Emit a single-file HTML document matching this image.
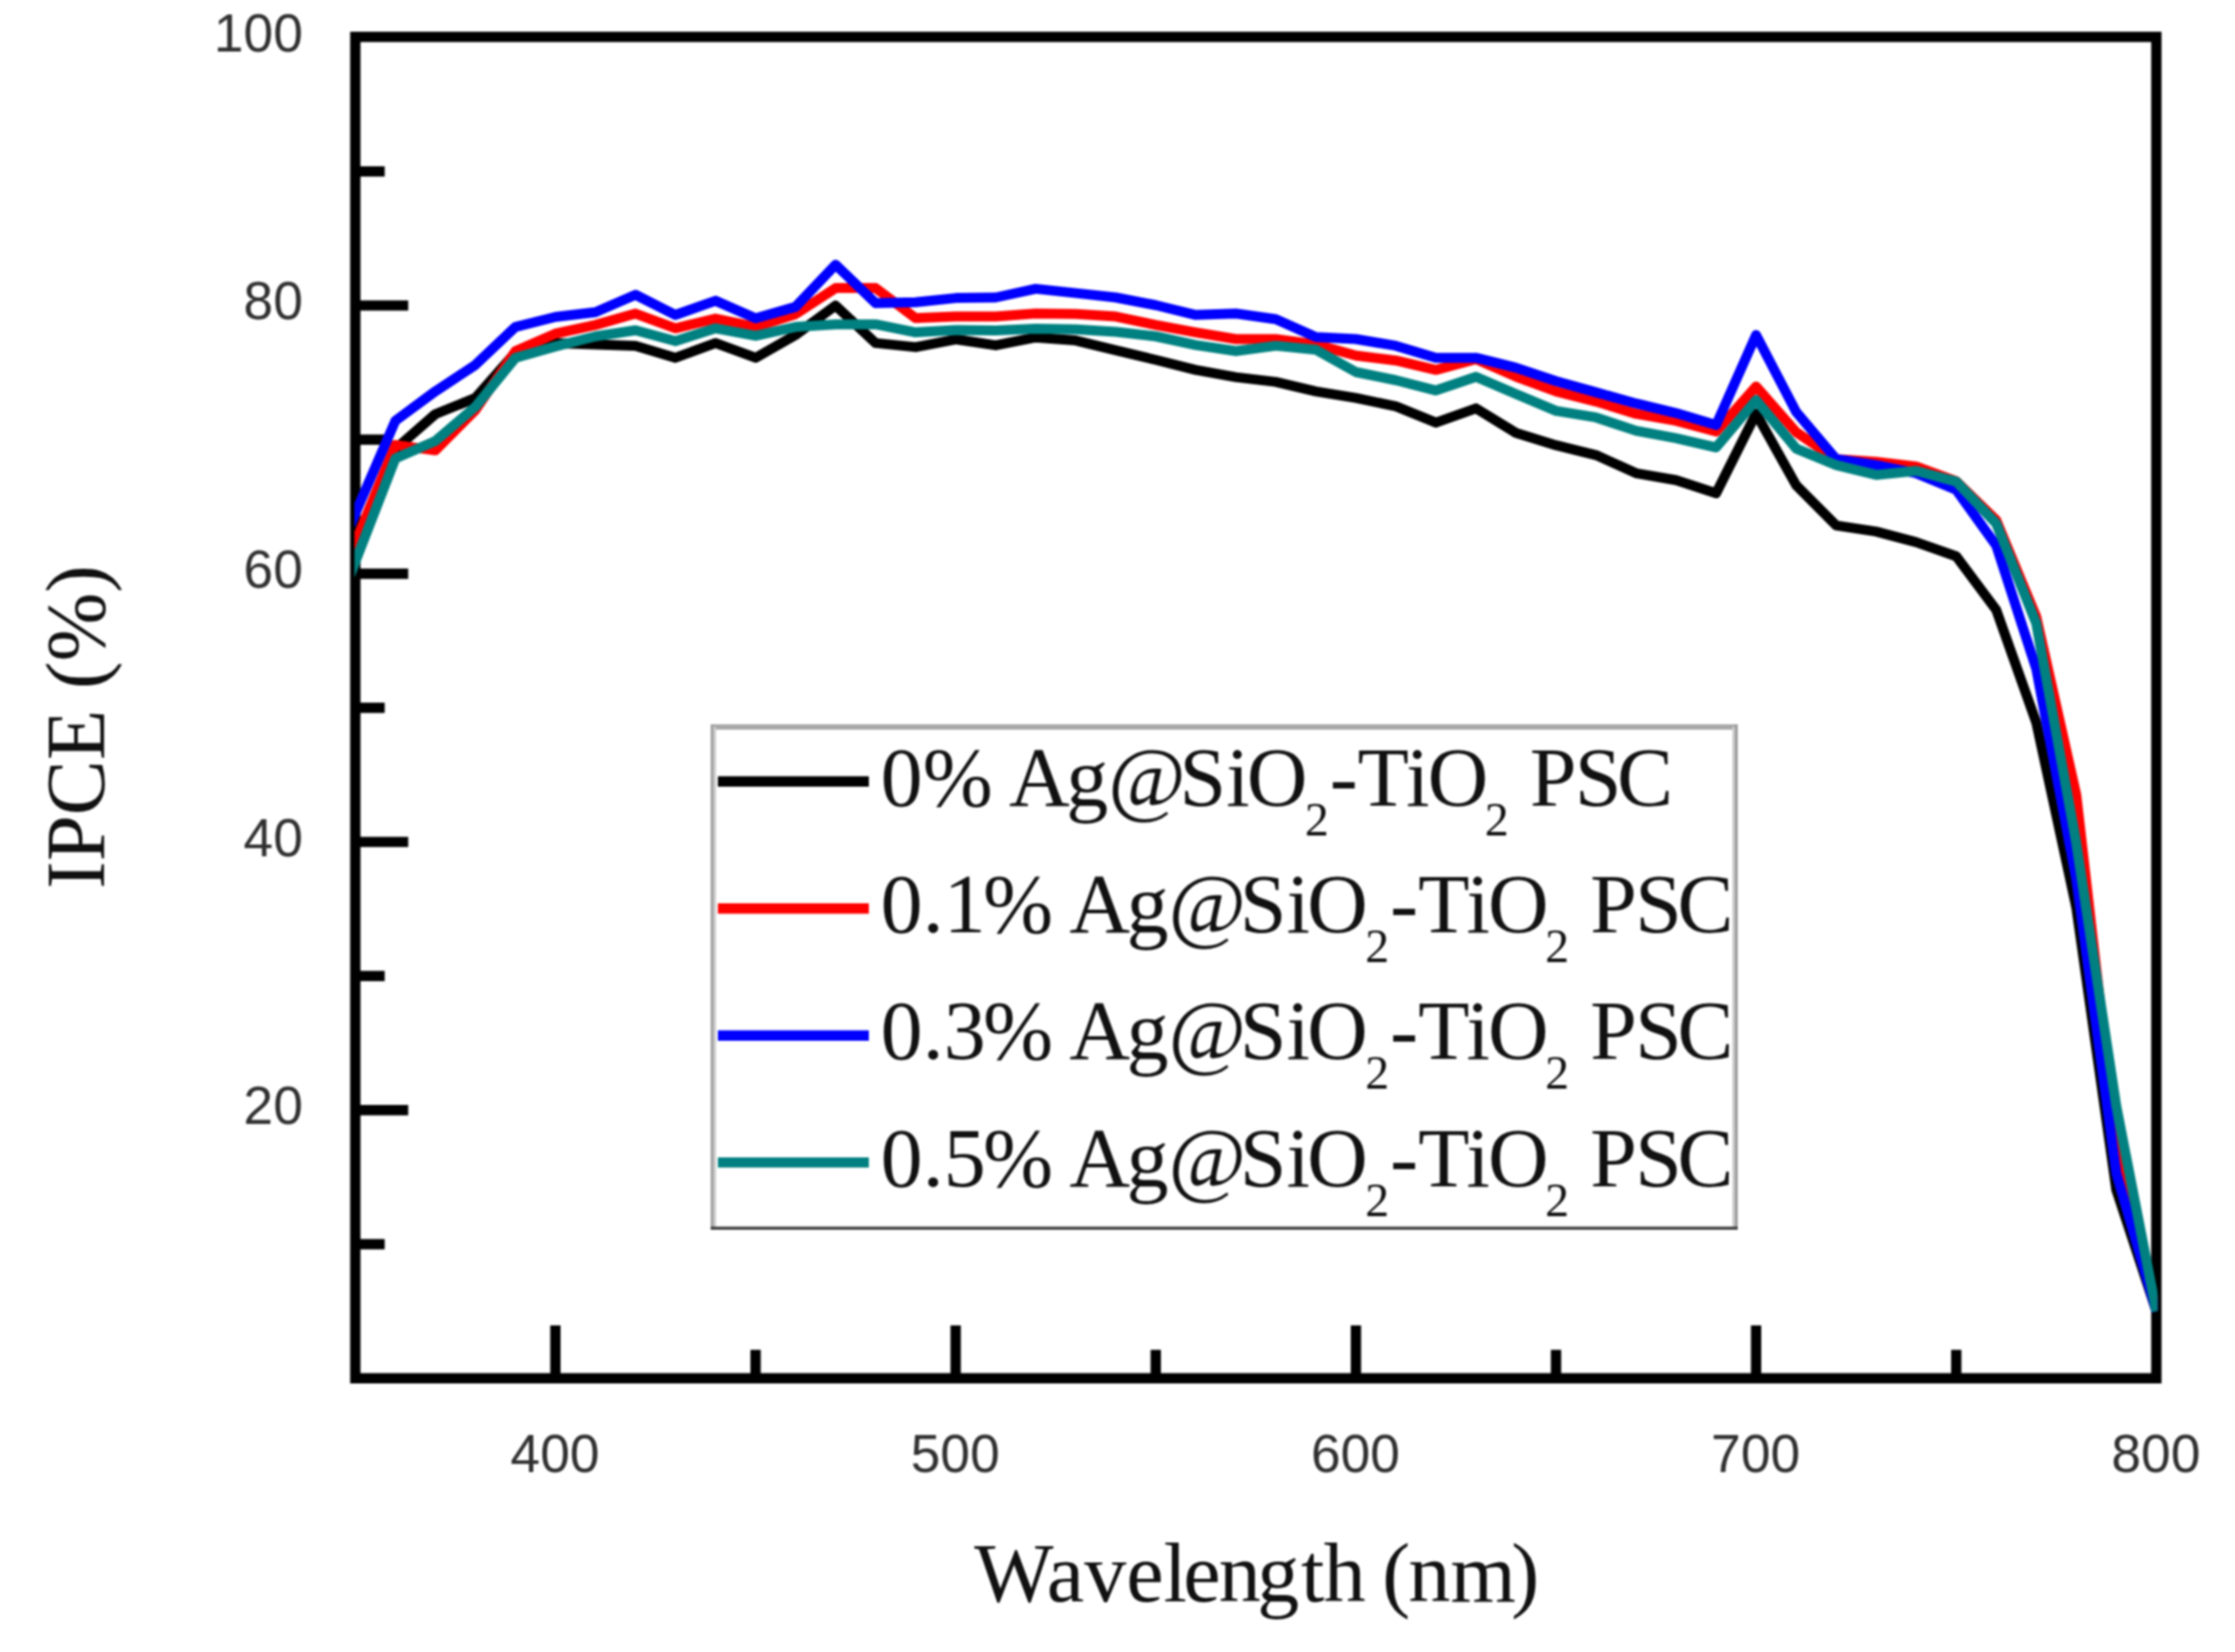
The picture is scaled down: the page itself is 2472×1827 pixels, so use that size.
<!DOCTYPE html>
<html><head><meta charset="utf-8"><title>IPCE</title>
<style>html,body{margin:0;padding:0;background:#fff}svg{display:block;filter:blur(1.05px)}</style>
</head><body>
<svg width="2472" height="1827" viewBox="0 0 2472 1827">
<rect width="2472" height="1827" fill="#fff"/>
<rect x="393.0" y="40.8" width="1992.0" height="1483.5" fill="none" stroke="#000" stroke-width="11.4"/>
<g stroke="#000" stroke-width="11.4" stroke-linecap="butt"><line x1="398.0" y1="1376.0" x2="425.5" y2="1376.0"/><line x1="398.0" y1="1227.7" x2="451.5" y2="1227.7"/><line x1="398.0" y1="1079.4" x2="425.5" y2="1079.4"/><line x1="398.0" y1="931.1" x2="451.5" y2="931.1"/><line x1="398.0" y1="782.8" x2="425.5" y2="782.8"/><line x1="398.0" y1="634.5" x2="451.5" y2="634.5"/><line x1="398.0" y1="486.2" x2="425.5" y2="486.2"/><line x1="398.0" y1="337.9" x2="451.5" y2="337.9"/><line x1="398.0" y1="189.6" x2="425.5" y2="189.6"/><line x1="614.3" y1="1519.3" x2="614.3" y2="1465.8"/><line x1="835.7" y1="1519.3" x2="835.7" y2="1492.8"/><line x1="1057.0" y1="1519.3" x2="1057.0" y2="1465.8"/><line x1="1278.3" y1="1519.3" x2="1278.3" y2="1492.8"/><line x1="1499.7" y1="1519.3" x2="1499.7" y2="1465.8"/><line x1="1721.0" y1="1519.3" x2="1721.0" y2="1492.8"/><line x1="1942.3" y1="1519.3" x2="1942.3" y2="1465.8"/><line x1="2163.7" y1="1519.3" x2="2163.7" y2="1492.8"/></g>
<clipPath id="c"><rect x="392" y="0" width="1994.5" height="1600"/></clipPath>
<g clip-path="url(#c)">
<polyline points="348.7,713.1 393.0,604.8 437.3,496.6 481.5,458.0 525.8,440.2 570.1,389.8 614.3,379.4 658.6,380.9 702.9,382.4 747.1,395.7 791.4,379.4 835.7,395.7 879.9,370.5 924.2,337.9 968.5,379.4 1012.7,383.9 1057.0,375.3 1101.3,381.9 1145.5,373.2 1189.8,376.6 1234.1,387.4 1278.3,398.0 1322.6,409.1 1366.9,417.1 1411.1,422.4 1455.4,432.8 1499.7,440.2 1543.9,449.4 1588.2,467.4 1632.5,451.6 1676.7,478.8 1721.0,492.4 1765.3,503.3 1809.5,523.3 1853.8,531.0 1898.1,545.5 1942.3,457.4 1986.6,536.6 2030.9,581.1 2075.1,587.9 2119.4,599.6 2163.7,615.2 2207.9,674.5 2252.2,799.1 2296.5,1003.8 2340.7,1315.9 2385.0,1450.1" fill="none" stroke="#000000" stroke-width="11" stroke-linejoin="round" stroke-linecap="butt"/>
<polyline points="348.7,708.6 393.0,600.4 437.3,492.1 481.5,498.1 525.8,453.6 570.1,388.3 614.3,369.0 658.6,359.4 702.9,346.8 747.1,363.1 791.4,352.3 835.7,361.6 879.9,347.5 924.2,318.6 968.5,318.6 1012.7,351.8 1057.0,350.1 1101.3,350.1 1145.5,346.8 1189.8,347.2 1234.1,350.1 1278.3,359.4 1322.6,367.6 1366.9,375.0 1411.1,375.0 1455.4,380.9 1499.7,393.2 1543.9,398.7 1588.2,409.1 1632.5,397.2 1676.7,416.5 1721.0,432.8 1765.3,444.1 1809.5,457.7 1853.8,465.4 1898.1,477.3 1942.3,427.5 1986.6,477.9 2030.9,507.7 2075.1,510.7 2119.4,515.9 2163.7,532.2 2207.9,575.2 2252.2,682.0 2296.5,879.2 2340.7,1264.8 2385.0,1450.1" fill="none" stroke="#ff0000" stroke-width="11" stroke-linejoin="round" stroke-linecap="butt"/>
<polyline points="348.7,670.1 393.0,567.8 437.3,465.4 481.5,432.8 525.8,403.6 570.1,361.6 614.3,350.5 658.6,345.3 702.9,326.0 747.1,348.3 791.4,332.6 835.7,352.0 879.9,339.4 924.2,292.7 968.5,335.2 1012.7,334.2 1057.0,329.6 1101.3,329.0 1145.5,319.4 1189.8,324.1 1234.1,329.0 1278.3,337.5 1322.6,348.3 1366.9,346.8 1411.1,353.0 1455.4,372.8 1499.7,375.0 1543.9,382.4 1588.2,395.7 1632.5,395.7 1676.7,406.6 1721.0,421.5 1765.3,433.9 1809.5,446.2 1853.8,456.8 1898.1,469.9 1942.3,370.5 1986.6,455.5 2030.9,507.7 2075.1,514.4 2119.4,523.3 2163.7,541.7 2207.9,603.4 2252.2,739.8 2296.5,972.6 2340.7,1297.4 2385.0,1450.1" fill="none" stroke="#0000ff" stroke-width="11" stroke-linejoin="round" stroke-linecap="butt"/>
<polyline points="348.7,735.3 393.0,621.2 437.3,507.0 481.5,487.7 525.8,449.9 570.1,395.7 614.3,383.1 658.6,372.0 702.9,365.3 747.1,377.2 791.4,363.1 835.7,371.3 879.9,361.6 924.2,358.7 968.5,358.7 1012.7,367.6 1057.0,365.0 1101.3,365.6 1145.5,363.6 1189.8,364.3 1234.1,367.0 1278.3,372.0 1322.6,381.6 1366.9,388.3 1411.1,382.4 1455.4,386.8 1499.7,411.5 1543.9,420.5 1588.2,431.8 1632.5,416.8 1676.7,435.8 1721.0,454.3 1765.3,461.7 1809.5,476.4 1853.8,484.7 1898.1,494.8 1942.3,442.5 1986.6,496.1 2030.9,514.4 2075.1,525.2 2119.4,520.8 2163.7,532.6 2207.9,578.9 2252.2,689.4 2296.5,932.6 2340.7,1223.3 2385.0,1450.1" fill="none" stroke="#008080" stroke-width="11" stroke-linejoin="round" stroke-linecap="butt"/>
</g>
<g font-family="'Liberation Sans', sans-serif" font-size="59" fill="#303030">
<text x="335" y="1243.2" text-anchor="end">20</text>
<text x="335" y="946.6" text-anchor="end">40</text>
<text x="335" y="650.0" text-anchor="end">60</text>
<text x="335" y="353.4" text-anchor="end">80</text>
<text x="335" y="56.8" text-anchor="end">100</text>
<text x="613.8" y="1628" text-anchor="middle">400</text>
<text x="1056.5" y="1628" text-anchor="middle">500</text>
<text x="1499.2" y="1628" text-anchor="middle">600</text>
<text x="1941.8" y="1628" text-anchor="middle">700</text>
<text x="2384.5" y="1628" text-anchor="middle">800</text>
</g>
<g font-family="'Liberation Serif', serif" fill="#111">
<text x="1390" y="1771" font-size="93" text-anchor="middle">Wavel<tspan dx="-4">e</tspan><tspan dx="-2">n</tspan><tspan dx="-4">g</tspan><tspan dx="2">t</tspan><tspan dx="-1">h </tspan><tspan dx="-5">(</tspan><tspan dx="-2">nm</tspan><tspan dx="-5">)</tspan></text>
<text transform="translate(114.5,804) rotate(-90) scale(0.983,1)" font-size="93" text-anchor="middle">IPCE (%)</text>
</g>
<rect x="785" y="800.5" width="137" height="3" fill="#fff"/>
<g>
<rect x="786" y="801" width="1136" height="557" fill="#fff"/>
<rect x="786" y="801" width="1136" height="6" fill="#a8a8a8"/>
<rect x="786" y="801" width="3" height="557" fill="#a0a0a0"/>
<rect x="789" y="804" width="3" height="554" fill="#cccccc"/>
<rect x="1916" y="804" width="3" height="554" fill="#cccccc"/>
<rect x="1919" y="801" width="3" height="557" fill="#999999"/>
<rect x="786" y="1356.6" width="1136" height="3.4" fill="#3c3c3c"/>
</g>
<g font-family="'Liberation Serif', serif" font-size="93" fill="#111">
<line x1="794" y1="864.3" x2="961" y2="864.3" stroke="#000000" stroke-width="11.4"/>
<text x="974" y="890.5">0% A<tspan dx="-4">g@</tspan><tspan dx="-7">Si</tspan><tspan dx="-3">O</tspan><tspan font-size="53" dy="33" dx="-3">2</tspan><tspan dy="-33" dx="1">-Ti</tspan><tspan dx="-2">O</tspan><tspan font-size="53" dy="33" dx="-4">2</tspan><tspan dy="-33"> P</tspan><tspan dx="-2">S</tspan><tspan dx="-5">C</tspan></text>
<line x1="794" y1="1004.8" x2="961" y2="1004.8" stroke="#ff0000" stroke-width="11.4"/>
<text x="974" y="1031.0">0.1<tspan dx="-3">%</tspan> A<tspan dx="-4">g@</tspan><tspan dx="-7">Si</tspan><tspan dx="-3">O</tspan><tspan font-size="53" dy="33" dx="-3">2</tspan><tspan dy="-33" dx="1">-Ti</tspan><tspan dx="-2">O</tspan><tspan font-size="53" dy="33" dx="-4">2</tspan><tspan dy="-33"> P</tspan><tspan dx="-2">S</tspan><tspan dx="-5">C</tspan></text>
<line x1="794" y1="1145.2" x2="961" y2="1145.2" stroke="#0000ff" stroke-width="11.4"/>
<text x="974" y="1171.4">0.3<tspan dx="-3">%</tspan> A<tspan dx="-4">g@</tspan><tspan dx="-7">Si</tspan><tspan dx="-3">O</tspan><tspan font-size="53" dy="33" dx="-3">2</tspan><tspan dy="-33" dx="1">-Ti</tspan><tspan dx="-2">O</tspan><tspan font-size="53" dy="33" dx="-4">2</tspan><tspan dy="-33"> P</tspan><tspan dx="-2">S</tspan><tspan dx="-5">C</tspan></text>
<line x1="794" y1="1285.6" x2="961" y2="1285.6" stroke="#008080" stroke-width="11.4"/>
<text x="974" y="1311.8">0.5<tspan dx="-3">%</tspan> A<tspan dx="-4">g@</tspan><tspan dx="-7">Si</tspan><tspan dx="-3">O</tspan><tspan font-size="53" dy="33" dx="-3">2</tspan><tspan dy="-33" dx="1">-Ti</tspan><tspan dx="-2">O</tspan><tspan font-size="53" dy="33" dx="-4">2</tspan><tspan dy="-33"> P</tspan><tspan dx="-2">S</tspan><tspan dx="-5">C</tspan></text>
</g>
</svg>
</body></html>
